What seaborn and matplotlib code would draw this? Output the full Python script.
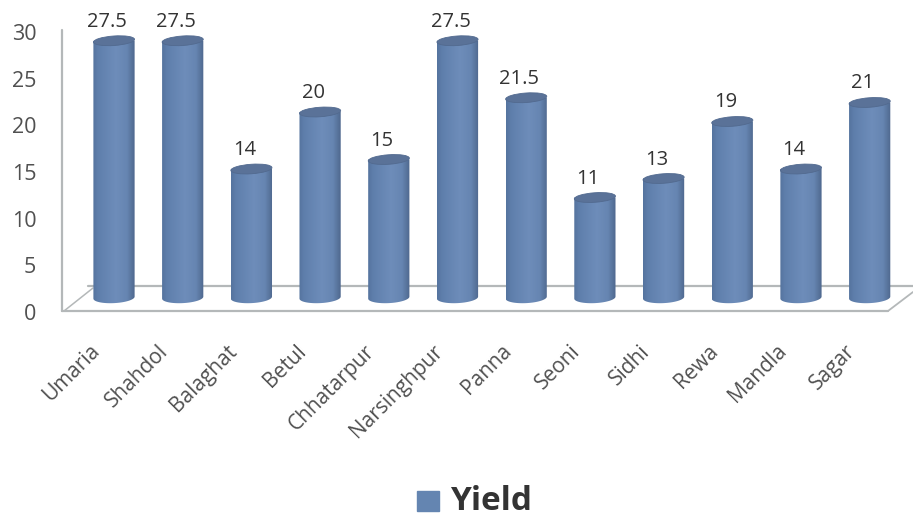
import matplotlib
matplotlib.use("Agg")
import matplotlib.pyplot as plt
import numpy as np
import seaborn as sns
import pandas as pd
from matplotlib.colors import LinearSegmentedColormap
from matplotlib.legend_handler import HandlerPatch
from matplotlib.lines import Line2D
from matplotlib.patches import Ellipse, Patch, PathPatch
from matplotlib.path import Path
from matplotlib.transforms import Affine2D, IdentityTransform

districts = ["Umaria","Shahdol","Balaghat","Betul","Chhatarpur","Narsinghpur","Panna","Seoni","Sidhi","Rewa","Mandla","Sagar"]
yields = [27.5,27.5,14,20,15,27.5,21.5,11,13,19,14,21]
value_labels = ["27.5","27.5","14","20","15","27.5","21.5","11","13","19","14","21"]
yticks = [0,5,10,15,20,25,30]

W,H = 913,519
BAR = "#6485b1"
sns.set_style("white")
plt.rcParams['font.family'] = ['Open Sans','DejaVu Sans']
fig = plt.figure(figsize=(W/100,H/100),dpi=100)
rect = [62/W,1-312/H,(910-62)/W,(312-32)/H]

# The 3D projection gives the printed axis and the bars slightly different scales,
# so the tick labels live on their own axes over the same frame.
ax = fig.add_axes(rect)
df = pd.DataFrame({"d":districts,"y":yields})
sns.barplot(data=df,x="d",y="y",color=BAR,saturation=1,width=0.6,ax=ax,legend=False,zorder=3)
XLIM=(-0.757,11.587)
YLIM=(-1.05,28.42)
ax.set_xlim(*XLIM)
ax.set_ylim(*YLIM)
ax.set_xlabel("");ax.set_ylabel("")
for s in ax.spines.values(): s.set_visible(False)
ax.set_yticks([])
ax.set_xticks(range(12))
ax.set_xticklabels([])
ax.tick_params(axis='x',length=0)
ax.patch.set_alpha(0)

ax_ticks = fig.add_axes(rect,zorder=-1)
ax_ticks.set_ylim(0,30)
ax_ticks.set_xticks([])
ax_ticks.set_yticks(yticks)
ax_ticks.set_yticklabels([str(t) for t in yticks],fontsize=15.5,color="#505050")
ax_ticks.tick_params(axis='y',length=0,pad=18.5)
for s in ax_ticks.spines.values(): s.set_visible(False)
ax_ticks.patch.set_alpha(0)

# perspective floor and wall lines (pixel positions on the figure)
gc="#b4b8b9"
for xs,ys,lw in [((62,62),(30,311),1.6),((62,888),(311,311),1.6),((64,93),(311,288),1.1),
                 ((88,913),(286,286),1.6),((888,913),(311,292),1.3)]:
    fig.add_artist(Line2D([x/W for x in xs],[1-y/H for y in ys],color=gc,lw=lw,zorder=0))

cmap = LinearSegmentedColormap.from_list("cyl",[(0,"#55749f"),(0.12,"#5f7fac"),(0.55,"#6e8dba"),(0.82,"#6685b1"),(1,"#4f688e")])
grad = np.linspace(0,1,64).reshape(1,-1)
fig.canvas.draw()
for i,(patch,v,l) in enumerate(zip(ax.patches,yields,value_labels)):
    x0,x1 = patch.get_x(),patch.get_x()+patch.get_width()
    (px0,ptop),(px1,pzero) = ax.transData.transform([(x0,v),(x1,0)])
    pbot = pzero+4.4
    cx=(px0+px1)/2; rx=(px1-px0)/2
    # cylinder outline: bar sides plus the rounded, slightly tilted base
    t=np.linspace(np.pi,2*np.pi,40)
    bx=cx+rx*np.cos(t); by=pbot+5.5*np.sin(t)+1.0*np.cos(t)
    verts=[(px0,ptop)]+list(zip(bx,by))+[(px1,ptop),(px0,ptop)]
    codes=[Path.MOVETO]+[Path.LINETO]*(len(verts)-2)+[Path.CLOSEPOLY]
    clip=PathPatch(Path(verts,codes),transform=IdentityTransform(),fc="none",ec="none")
    patch.set_visible(False)
    im=ax.imshow(grad,extent=(x0,x1,-1,v),aspect="auto",cmap=cmap,zorder=3.2)
    im.set_clip_path(clip)
    # cap
    ax.add_patch(Ellipse((0,0),2*rx,9.5,facecolor="#5a7298",edgecolor="#526a8f",lw=0.6,
                         transform=Affine2D().rotate_deg(4).translate(cx,ptop),zorder=4,clip_on=False))
    ax.text(i-0.1,v+2.0,l,ha="center",va="center",fontsize=14.5,color="#333333",zorder=5,clip_on=False)
    ax.annotate(districts[i],xy=(i,0),xycoords=ax.get_xaxis_transform(),xytext=(-12.5,-26),textcoords="offset points",
                rotation=45,ha="right",va="center",rotation_mode="anchor",fontsize=15,color="#505050")
ax.set_xlim(*XLIM)
ax.set_ylim(*YLIM)

def place_key(handle, orig):
    handle.update_from(orig)
    handle.set_y(-0.7)
    handle.set_height(15.1)

leg_patch=Patch(color="#6485b1",label="Yield")
fig.legend(handles=[leg_patch],loc="center",bbox_to_anchor=(474.5/W,1-502/H),
           frameon=False,handlelength=0.66,handleheight=0.65,handletextpad=0.31,labelcolor="#333333",
           handler_map={Patch:HandlerPatch(update_func=place_key)},
           prop={"size":24,"weight":"bold"})
fig.savefig("out.png",dpi=100)
